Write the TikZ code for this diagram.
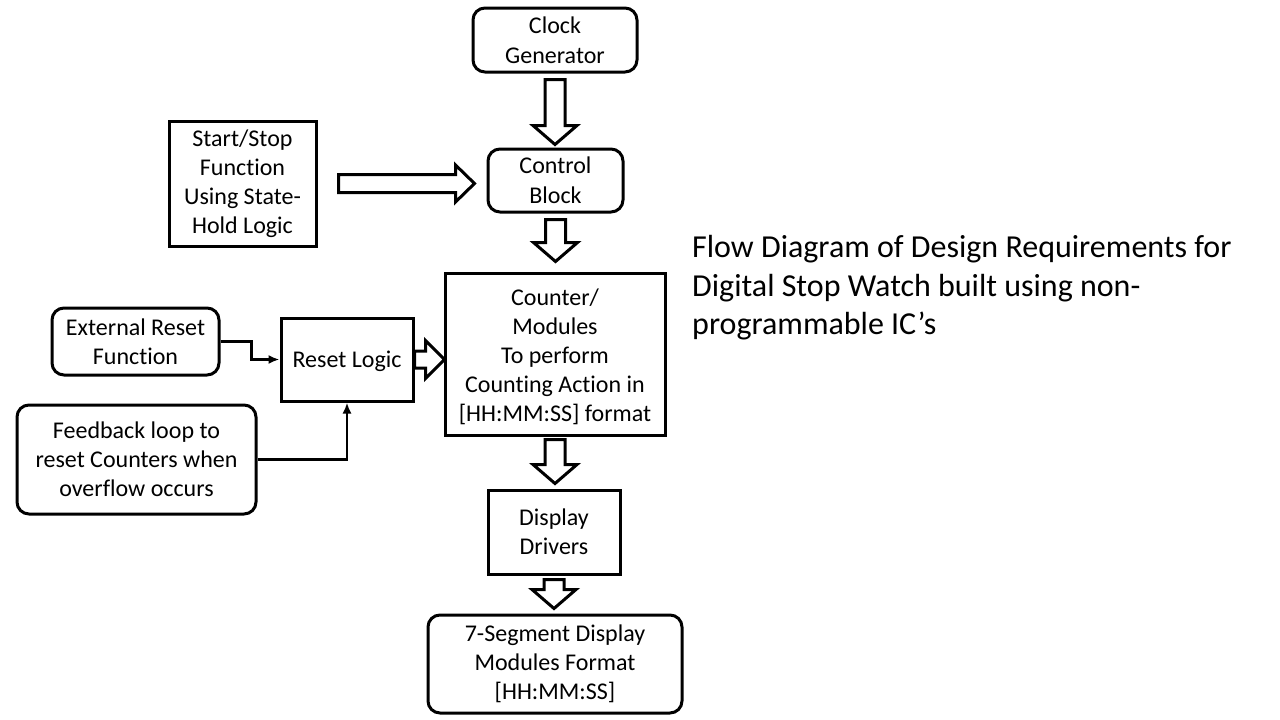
\documentclass[tikz,border=0pt]{standalone}
\usepackage{fontspec}
\setmainfont{Carlito}[Ligatures=NoCommon, RawFeature={-liga;-clig;-calt;-dlig}]
\usetikzlibrary{calc,arrows.meta}
\tikzset{
  box/.style={draw, line width=3pt, inner sep=0pt, align=center, font=\fontsize{24}{29}\selectfont},
  rbox/.style={box, rounded corners=12pt},
  blk/.style={draw, line width=3pt, fill=white, line join=miter},
  thinarrow/.style={draw, line width=2.5pt, -{Latex[length=11pt,width=9pt]}},
  thinline/.style={draw, line width=2.5pt}
}
\newcommand\downblk[4]{%
  \draw[blk] let \p1=(#1.south), \p2=(#2.north) in
    (\x1-10pt,\y1-#3) -- (\x1+10pt,\y1-#3) -- (\x1+10pt,\y2+#4+19pt) -- (\x1+22pt,\y2+#4+19pt)
    -- (\x1,\y2+#4) -- (\x1-22pt,\y2+#4+19pt) -- (\x1-10pt,\y2+#4+19pt) -- cycle;}
\newcommand\rightblk[6]{%
  \draw[blk] let \p1=(#1.east), \p2=(#2.west) in
    (\x1+#3,\y1-#5) -- (\x2-#4-19pt,\y1-#5) -- (\x2-#4-19pt,\y1-#6) -- (\x2-#4,\y1)
    -- (\x2-#4-19pt,\y1+#6) -- (\x2-#4-19pt,\y1+#5) -- (\x1+#3,\y1+#5) -- cycle;}
\begin{document}
\begin{tikzpicture}[x=1pt,y=-1pt]
\useasboundingbox (0,0) rectangle (1280,720);
\node[rbox, minimum width=164pt, minimum height=64pt] (clock) at (555,40) {Clock\\[1pt]Generator};
\node[rbox, minimum width=135pt, minimum height=63pt] (control) at (555.5,180.5) {Control\\[1pt]Block};
\node[box, minimum width=147pt, minimum height=125pt] (start) at (242.5,183.5) {Start/Stop\\Function\\Using State-\\Hold Logic};
\node[box, minimum width=220pt, minimum height=162pt] (counter) at (555,354) {\rule{0pt}{22pt}Counter/\\Modules\\To perform\\Counting Action in\\{[HH:MM:SS]} format};
\node[rbox, minimum width=167pt, minimum height=67pt] (ext) at (135.5,341.5) {External Reset\\Function};
\node[box, minimum width=132pt, minimum height=83pt] (reset) at (347,359.5) {\rule{0pt}{20pt}Reset Logic};
\node[rbox, minimum width=239pt, minimum height=109pt] (fb) at (136.5,459.5) {Feedback loop to\\reset Counters when\\overflow occurs};
\node[box, minimum width=132pt, minimum height=84pt] (disp) at (554,532) {Display\\Drivers};
\node[rbox, minimum width=254pt, minimum height=98pt] (seg) at (555,664) {7-Segment Display\\Modules Format\\{[HH:MM:SS]}};
\node[anchor=west, align=left, inner sep=0pt, font=\fontsize{32}{38.5}\selectfont] (title) at (692,288)
  {Flow Diagram of Design Requirements for\\Digital Stop Watch built using non-\\programmable IC’s};
\downblk{clock}{control}{6pt}{3pt}
\downblk{control}{counter}{6pt}{10pt}
\downblk{counter}{disp}{3pt}{5pt}
\downblk{disp}{seg}{4pt}{5pt}
\rightblk{start}{control}{21pt}{12pt}{9pt}{18.5pt}
\rightblk{reset}{counter}{0pt}{-1pt}{8.5pt}{19pt}
\draw[thinarrow] (ext.east) -- ++(31,0) |- (reset.west);
\draw[thinarrow] (fb.east) -| (reset.south);
\end{tikzpicture}
\end{document}
